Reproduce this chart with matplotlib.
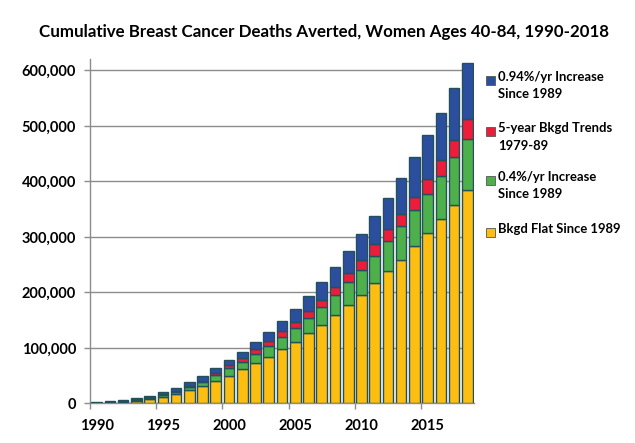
import numpy as np
import matplotlib.pyplot as plt
from matplotlib.patches import Rectangle
from matplotlib.ticker import FuncFormatter

plt.rcParams['font.family'] = ['Lato', 'DejaVu Sans']
plt.rcParams['font.weight'] = 'bold'

years = list(range(1990, 2019))
# segment heights (deaths averted), bottom to top
bkgd_flat = [500, 1500, 3000, 4700, 7700, 12000, 17000, 24000, 31000, 40000,
             50000, 61000, 72000, 84000, 97000, 111000, 126000, 142000, 160000, 178000,
             196000, 216000, 238000, 259000, 283000, 306000, 331500, 357000, 384000]
inc_04 = [300, 700, 1000, 2100, 2300, 3000, 4000, 5500, 7000, 11000,
          13000, 14000, 16000, 19000, 23000, 25000, 28000, 32000, 35000, 40000,
          45000, 49000, 54000, 61000, 65000, 72000, 78500, 86000, 93000]
trend_5yr = [200, 400, 500, 700, 1000, 1500, 2000, 2500, 3000, 4000,
             5500, 7000, 9000, 9000, 10000, 11000, 12000, 13000, 15000, 16000,
             17000, 21500, 22000, 22000, 24000, 27000, 28000, 31000, 35000]
inc_094 = [500, 900, 1500, 2500, 3000, 3500, 5000, 6000, 8000, 8000,
           9500, 11000, 13000, 16000, 18000, 23000, 27000, 32000, 36000, 41000,
           47000, 51000, 56000, 64500, 71000, 78000, 86000, 93600, 102000]

series = [bkgd_flat, inc_04, trend_5yr, inc_094]
colors = ['#FDBE12', '#4DB04A', '#EC1C3A', '#2B4E9E']
labels = ['Bkgd Flat Since 1989', '0.4%/yr Increase\nSince 1989',
          '5-year Bkgd Trends\n1979-89', '0.94%/yr Increase\nSince 1989']
tick_years = [1990, 1995, 2000, 2005, 2010, 2015]

fig = plt.figure(figsize=(6.35, 4.43), dpi=100)
ax = fig.add_axes([0.1417, 0.0896, 0.6048, 0.7767])

x = np.arange(len(years))
bottom = np.zeros(len(years))
for vals, c in zip(series, colors):
    ax.bar(x, vals, width=0.8, bottom=bottom, color=c, edgecolor='#24505C',
           linewidth=1.0, zorder=3)
    bottom += np.array(vals)

ax.set_xlim(-0.5, len(years) - 0.5)
ax.set_ylim(0, 620000)
ax.set_yticks(np.arange(0, 600001, 100000))
ax.yaxis.set_major_formatter(FuncFormatter(lambda v, p: f'{int(v):,}'))
ax.yaxis.grid(True, color='#8C8C8C', linewidth=1.0, zorder=0)

ax.set_xticks([years.index(y) for y in tick_years])
ax.set_xticklabels([str(y) for y in tick_years])
ax.set_xticks(np.arange(-0.5, len(years), 5), minor=True)
ax.tick_params(axis='x', which='major', length=0, pad=11, labelsize=10.5)
ax.tick_params(axis='x', which='minor', length=4, color='#8C8C8C', width=1)
ax.tick_params(axis='y', length=4, color='#8C8C8C', width=1, labelsize=10.5, pad=6)

for s in ['top', 'right']:
    ax.spines[s].set_visible(False)
for s in ['left', 'bottom']:
    ax.spines[s].set_color('#8C8C8C')
    ax.spines[s].set_linewidth(1.0)

fig.text(0.51, 0.928, 'Cumulative Breast Cancer Deaths Averted, Women Ages 40-84, 1990-2018',
         ha='center', va='center', fontsize=12.2, fontweight='bold')

# legend drawn beside the plot, top entry first
leg_y = [80, 131, 180, 232]
for i, (lab, c) in enumerate(zip(labels[::-1], colors[::-1])):
    yt = 1 - leg_y[i] / 443
    fig.add_artist(Rectangle((486 / 635, yt - 5 / 443), 9 / 635, 9 / 443,
                             facecolor=c, edgecolor='#555555', linewidth=0.6,
                             transform=fig.transFigure))
    fig.text(498 / 635, yt + 9 / 443, lab, ha='left', va='top', fontsize=9.4,
             fontweight='bold', linespacing=1.55)

fig.savefig('out.png', dpi=100)
